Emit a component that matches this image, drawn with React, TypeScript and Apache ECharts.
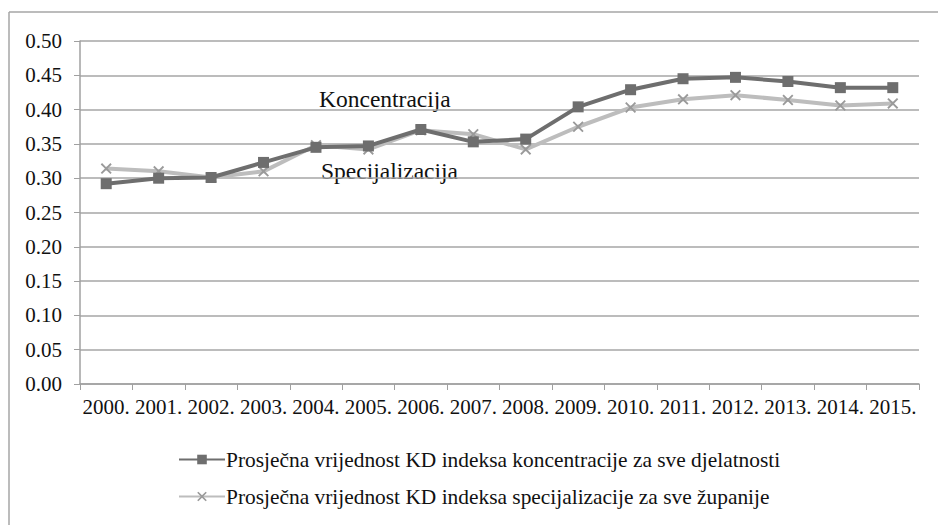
import React, { useEffect, useRef } from "react";
import * as echarts from "echarts";

const categories = ["2000.", "2001.", "2002.", "2003.", "2004.", "2005.", "2006.", "2007.", "2008.", "2009.", "2010.", "2011.", "2012.", "2013.", "2014.", "2015."];
const koncentracija = [0.292, 0.300, 0.301, 0.323, 0.345, 0.347, 0.371, 0.353, 0.357, 0.404, 0.429, 0.445, 0.447, 0.441, 0.432, 0.432];
const specijalizacija = [0.314, 0.310, 0.301, 0.310, 0.348, 0.342, 0.370, 0.364, 0.342, 0.375, 0.403, 0.415, 0.421, 0.414, 0.406, 0.409];
const seriesNames = [
  "Prosječna vrijednost KD indeksa koncentracije za sve djelatnosti",
  "Prosječna vrijednost KD indeksa specijalizacije za sve županije",
];

const FONT = "serif";
const CROSS = "path://M0,1.2 L1.2,0 L5,3.8 L8.8,0 L10,1.2 L6.2,5 L10,8.8 L8.8,10 L5,6.2 L1.2,10 L0,8.8 L3.8,5 Z";

export default function App() {
  const ref = useRef<HTMLDivElement>(null);
  useEffect(() => {
    if (!ref.current) return;
    const chart = echarts.init(ref.current, null, { renderer: "svg" });
    chart.setOption({
      animation: false,
      backgroundColor: "#ffffff",
      textStyle: { fontFamily: FONT },
      grid: { left: 80, right: 19, top: 41, bottom: 141, containLabel: false },
      xAxis: {
        type: "category",
        data: categories,
        boundaryGap: true,
        axisLine: { lineStyle: { color: "#a0a0a0", width: 1.5 } },
        axisTick: { show: true, length: 6, lineStyle: { color: "#a0a0a0" } },
        axisLabel: { color: "#111", fontSize: 21, fontFamily: FONT, margin: 12, interval: 0 },
      },
      yAxis: {
        type: "value",
        min: 0,
        max: 0.5,
        interval: 0.05,
        axisLine: { show: true, lineStyle: { color: "#a0a0a0", width: 1.5 } },
        axisTick: { show: true, length: 6, lineStyle: { color: "#a0a0a0" } },
        axisLabel: { color: "#111", fontSize: 21, fontFamily: FONT, margin: 18, formatter: (v: number) => v.toFixed(2) },
        splitLine: { lineStyle: { color: "#a6a6a6", width: 1.5 } },
      },
      legend: {
        orient: "vertical",
        left: 173,
        top: 444,
        itemGap: 16,
        itemWidth: 46,
        itemHeight: 12,
        textStyle: { color: "#111", fontSize: 21.4, fontFamily: FONT, padding: [0, 0, 0, -4] },
        data: seriesNames,
      },
      graphic: [
        { type: "line", shape: { x1: 9, y1: 12, x2: 938, y2: 12 }, style: { stroke: "#a6a6a6", lineWidth: 1.5 } },
        { type: "line", shape: { x1: 9, y1: 12, x2: 9, y2: 525 }, style: { stroke: "#a6a6a6", lineWidth: 1.5 } },
        { type: "text", left: 319, top: 87, style: { text: "Koncentracija", font: `23.5px ${FONT}`, fill: "#111" } },
        { type: "text", left: 321, top: 159, style: { text: "Specijalizacija", font: `23.5px ${FONT}`, fill: "#111" } },
      ],
      series: [
        {
          name: seriesNames[0],
          type: "line",
          data: koncentracija,
          symbol: "rect",
          symbolSize: 11,
          lineStyle: { color: "#6e6e6e", width: 4 },
          itemStyle: { color: "#6e6e6e" },
          z: 3,
        },
        {
          name: seriesNames[1],
          type: "line",
          data: specijalizacija,
          symbol: CROSS,
          symbolSize: 11,
          lineStyle: { color: "#bdbdbd", width: 4 },
          itemStyle: { color: "#9a9a9a" },
          z: 2,
        },
      ],
    });
    return () => chart.dispose();
  }, []);
  return <div ref={ref} style={{ width: 938, height: 525, position: "absolute", left: 0, top: 0 }} />;
}
